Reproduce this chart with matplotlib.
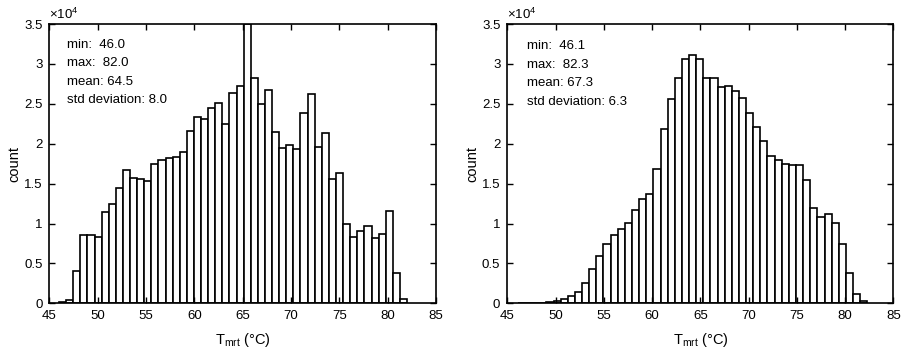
import numpy as np
import matplotlib
matplotlib.use('Agg')
import matplotlib.pyplot as plt

plt.rcParams['font.family'] = ['Liberation Sans', 'DejaVu Sans']
plt.rcParams['mathtext.fontset'] = 'custom'
plt.rcParams['mathtext.rm'] = 'Liberation Sans'
plt.rcParams['mathtext.it'] = 'Liberation Sans:italic'

# counts in units of 1e4, 49 bins between min and max
left_counts = [0.01, 0.04, 0.40, 0.86, 0.85, 0.83, 1.15, 1.24, 1.45, 1.675,
               1.575, 1.56, 1.53, 1.74, 1.79, 1.82, 1.83, 1.90, 2.16, 2.33,
               2.31, 2.45, 2.51, 2.25, 2.64, 2.73, 3.50, 2.82, 2.50, 2.67,
               2.15, 1.95, 1.98, 1.94, 2.39, 2.62, 1.96, 2.14, 1.56, 1.63,
               0.99, 0.83, 0.91, 0.97, 0.82, 0.87, 1.16, 0.38, 0.06]
right_counts = [0.002, 0.003, 0.005, 0.008, 0.015, 0.03, 0.06, 0.09, 0.14, 0.26,
                0.43, 0.59, 0.74, 0.85, 0.93, 1.01, 1.17, 1.31, 1.37, 1.68,
                2.18, 2.56, 2.82, 3.06, 3.11, 3.06, 2.83, 2.82, 2.71, 2.73,
                2.66, 2.57, 2.38, 2.21, 2.04, 1.85, 1.80, 1.74, 1.73, 1.73,
                1.55, 1.19, 1.08, 1.12, 1.01, 0.74, 0.38, 0.12, 0.03]

left_stats = {'min': 46.0, 'max': 82.0, 'mean': 64.5, 'std': 8.0}
right_stats = {'min': 46.1, 'max': 82.3, 'mean': 67.3, 'std': 6.3}

x_ticks = [45, 50, 55, 60, 65, 70, 75, 80, 85]
y_ticks = [0, 0.5, 1, 1.5, 2, 2.5, 3, 3.5]


def draw_hist(ax, counts, stats, text_x, text_y):
    edges = np.linspace(stats['min'], stats['max'], len(counts) + 1)
    ax.bar(edges[:-1], counts, width=np.diff(edges), align='edge',
           color='white', edgecolor='black', linewidth=1.2)
    ax.set_xlim(45, 85)
    ax.set_ylim(0, 3.5)
    ax.set_xticks(x_ticks)
    ax.set_yticks(y_ticks)
    ax.set_yticklabels(['%g' % t for t in y_ticks])
    ax.tick_params(direction='in', top=True, right=True, length=4,
                   labelsize=9.5, pad=5, width=1)
    for s in ax.spines.values():
        s.set_linewidth(1.2)
    ax.set_xlabel(r'T$_{\rm mrt}$ (°C)', fontsize=10.5, labelpad=6)
    ax.set_ylabel('count', fontsize=10.5, labelpad=2)
    ax.text(0.0, 1.008, r'$\times$10$^4$', transform=ax.transAxes,
            ha='left', va='bottom', fontsize=9.5)

    lines = ['min:  %.1f' % stats['min'],
             'max:  %.1f' % stats['max'],
             'mean: %.1f' % stats['mean'],
             'std deviation: %.1f' % stats['std']]
    for i, line in enumerate(lines):
        ax.text(text_x, text_y - i * 0.066, line, transform=ax.transAxes,
                ha='left', va='center', fontsize=9.5)


fig = plt.figure(figsize=(9.02, 3.53), dpi=100)
ax1 = fig.add_axes([0.0547, 0.1408, 0.4287, 0.791])
ax2 = fig.add_axes([0.5624, 0.1408, 0.428, 0.791])

draw_hist(ax1, left_counts, left_stats, 0.046, 0.925)
draw_hist(ax2, right_counts, right_stats, 0.052, 0.92)

fig.savefig('out.png', dpi=100)
